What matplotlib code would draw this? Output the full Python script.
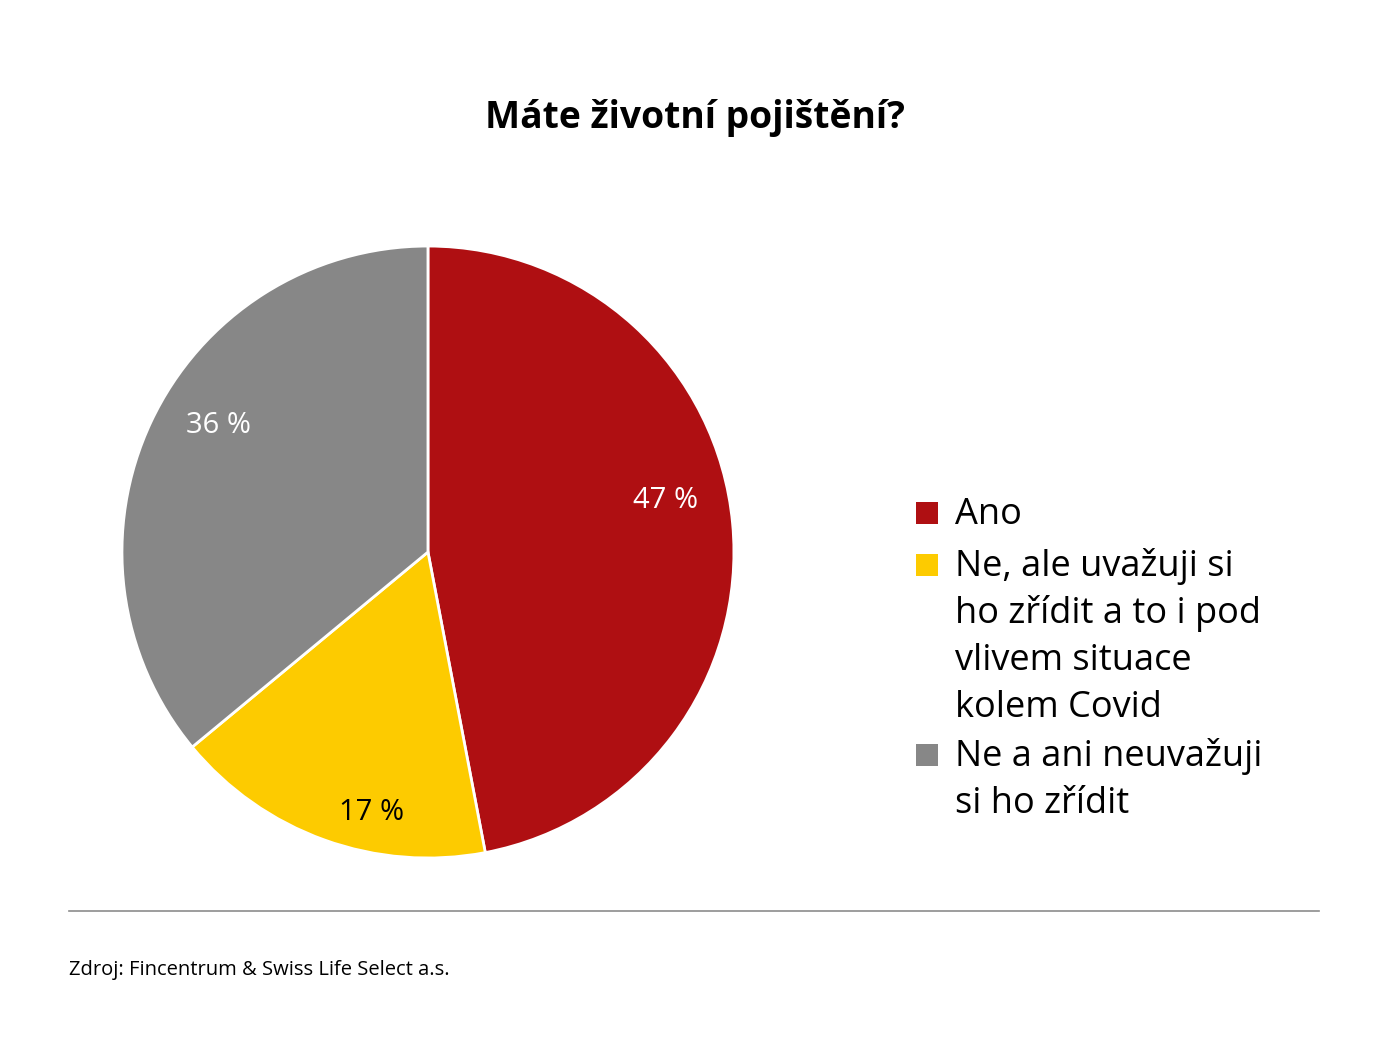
import matplotlib
matplotlib.use("Agg")
import matplotlib.pyplot as plt
from matplotlib.lines import Line2D
from matplotlib.patches import Rectangle

plt.rcParams['font.family'] = ['Open Sans', 'DejaVu Sans']

title = 'Máte životní pojištění?'
labels = ['Ano',
          'Ne, ale uvažuji si\nho zřídit a to i pod\nvlivem situace\nkolem Covid',
          'Ne a ani neuvažuji\nsi ho zřídit']
values = [47, 17, 36]
colors = ['#AF0F12', '#FDCB00', '#878787']
source = 'Zdroj: Fincentrum & Swiss Life Select a.s.'

W, H = 1389, 1056
fig = plt.figure(figsize=(W / 100, H / 100), dpi=100)
ax = fig.add_axes([0.0878, 0.1875, 0.4406, 0.5795])

wedges, texts, autotexts = ax.pie(
    values, colors=colors, startangle=90, counterclock=False,
    autopct=lambda p: f'{p:.0f} %', pctdistance=0.8,
    wedgeprops=dict(edgecolor='white', linewidth=2),
    textprops=dict(color='white', fontsize=21))
autotexts[1].set_color('black')

# nudge the percentage labels to where they sit in the original
label_pos = [(0.775, 0.17), (-0.183, -0.85), (-0.686, 0.415)]
for t, pos in zip(autotexts, label_pos):
    t.set_position(pos)

ax.set_xlim(-1, 1)
ax.set_ylim(-1, 1)
ax.set_aspect('equal')

fig.text(0.5, 1 - 118 / H, title, ha='center', va='center', fontsize=26.8, fontweight='bold')

# legend: square aligned with the first line of each entry, lines 47 px apart
baselines = [524, 576, 766]
for w, lab, b in zip(wedges, labels, baselines):
    fig.add_artist(Rectangle((916 / W, 1 - b / H), 22 / W, 22 / H,
                             transform=fig.transFigure,
                             facecolor=w.get_facecolor(), edgecolor='none'))
    for i, line in enumerate(lab.split('\n')):
        fig.text(955 / W, 1 - (b + 47 * i) / H, line, ha='left', va='baseline',
                 fontsize=26)

fig.add_artist(Line2D([69 / W, 1319 / W], [1 - 911 / H] * 2,
                      color='#8c8c8c', linewidth=1.2))
fig.text(69 / W, 1 - 970 / H, source, ha='left', va='center', fontsize=14.5)

fig.savefig('out.png', dpi=100, facecolor='white')
